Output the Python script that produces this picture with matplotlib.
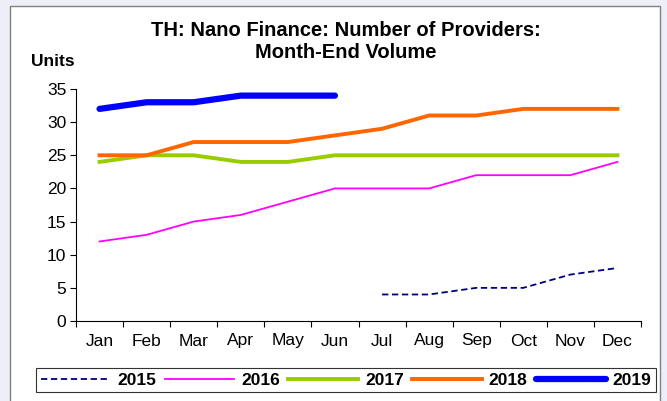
import matplotlib.pyplot as plt
from matplotlib.patches import Rectangle
import numpy as np

months = ['Jan', 'Feb', 'Mar', 'Apr', 'May', 'Jun',
          'Jul', 'Aug', 'Sep', 'Oct', 'Nov', 'Dec']

# values (None = no data)
v2015 = [None, None, None, None, None, None, 4, 4, 5, 5, 7, 8]
v2016 = [12, 13, 15, 16, 18, 20, 20, 20, 22, 22, 22, 24]
v2017 = [24, 25, 25, 24, 24, 25, 25, 25, 25, 25, 25, 25]
v2018 = [25, 25, 27, 27, 27, 28, 29, 31, 31, 32, 32, 32]
v2019 = [32, 33, 33, 34, 34, 34, None, None, None, None, None, None]

yticks = [0, 5, 10, 15, 20, 25, 30, 35]


def arr(v):
    return np.array([np.nan if a is None else a for a in v], dtype=float)


plt.rcParams['font.family'] = ['Liberation Sans', 'DejaVu Sans']

fig = plt.figure(figsize=(6.67, 4.01), dpi=100)
fig.patch.set_facecolor('#eeeef8')
# white chart panel with grey border
fig.patches.append(Rectangle((10 / 667, -0.01), 650 / 667, 1 - 6 / 401 + 0.01,
                             transform=fig.transFigure, facecolor='white',
                             edgecolor='#808080', linewidth=1.0, zorder=-10))

ax = fig.add_axes([76 / 667, 1 - 321 / 401, 565 / 667, 232 / 401])
ax.set_facecolor('none')
x = np.arange(len(months))

ax.plot(x, arr(v2015), color='#000080', lw=1.3, ls=(0, (3.5, 2)), label='2015')
ax.plot(x, arr(v2016), color='#ff00ff', lw=1.3, label='2016')
ax.plot(x, arr(v2017), color='#99cc00', lw=2.8, label='2017')
ax.plot(x, arr(v2018), color='#ff6600', lw=2.8, label='2018')
ax.plot(x, arr(v2019), color='#0000ff', lw=4.5, solid_capstyle='round', label='2019')

ax.set_xlim(-0.5, 11.5)
ax.set_ylim(0, 35)
ax.set_yticks(yticks)
ax.set_xticks(np.arange(-0.5, 12, 1))
ax.set_xticklabels([])
ax.set_xticks(x, minor=True)
ax.set_xticklabels(months, minor=True)
ax.tick_params(axis='x', which='minor', length=0, pad=9, labelsize=12.5)
ax.tick_params(axis='x', which='major', length=4, direction='out')
ax.tick_params(axis='y', length=4, direction='out', labelsize=12.5, pad=3)

ax.spines['right'].set_color('none')
ax.spines['top'].set_color('none')

fig.text(346 / 667, 1 - 42 / 401, 'TH: Nano Finance: Number of Providers:\nMonth-End Volume',
         ha='center', va='center', fontsize=14.5, fontweight='bold', linespacing=1.2)
fig.text(31 / 667, 1 - 62 / 401, 'Units', ha='left', va='center',
         fontsize=12.5, fontweight='bold')

leg = fig.legend(loc='center', bbox_to_anchor=(346 / 667, 1 - 380 / 401), ncol=5,
                 frameon=True, fancybox=False, edgecolor='black',
                 prop={'weight': 'bold', 'size': 12.5}, handlelength=4.0,
                 columnspacing=0.5, handletextpad=0.4, borderpad=0.25)
leg.get_frame().set_linewidth(0.8)

fig.savefig('out.png', dpi=100, facecolor=fig.get_facecolor())
